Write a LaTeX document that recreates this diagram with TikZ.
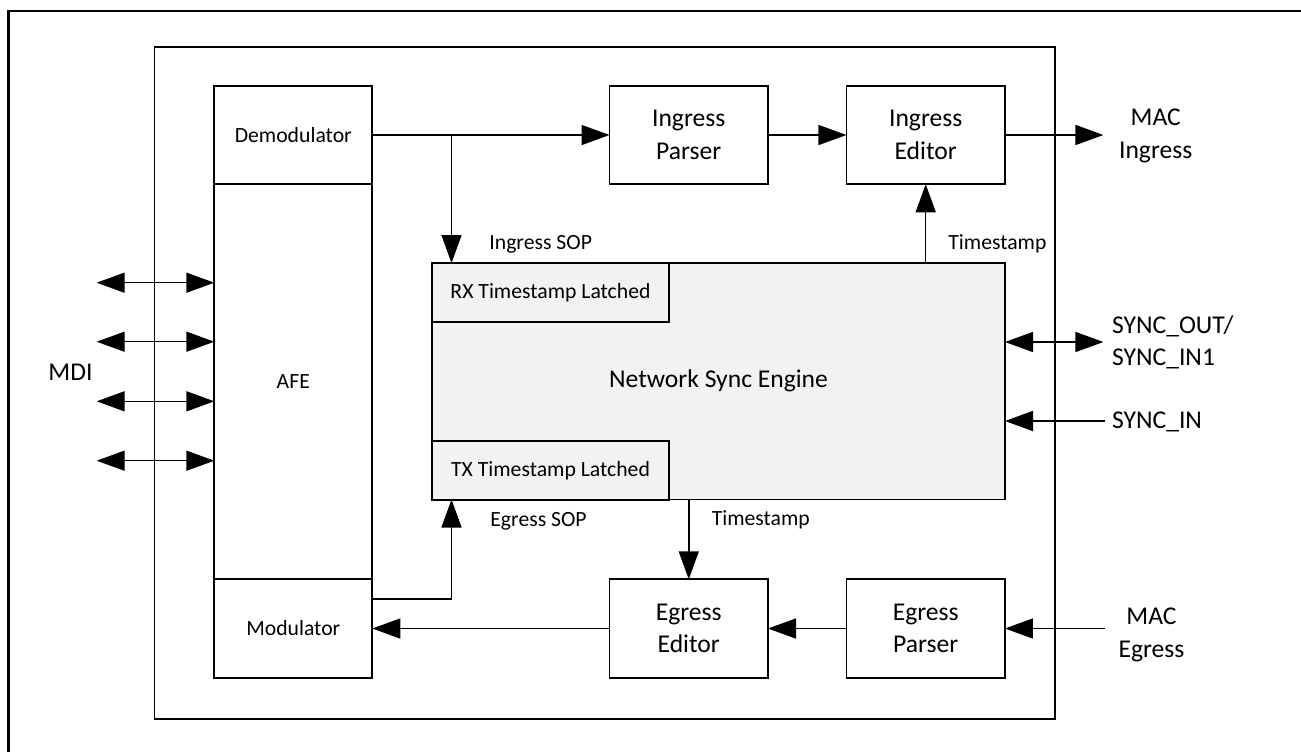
\documentclass[tikz,border=0pt]{standalone}
\usepackage{fontspec}
\setmainfont{Carlito}
\usetikzlibrary{arrows.meta}

\begin{document}
\begin{tikzpicture}[x=0.5pt,y=-0.5pt,
  bigtxt/.style={font=\fontsize{12.8pt}{16.3pt}\selectfont},
  smalltxt/.style={font=\fontsize{10.85pt}{13pt}\selectfont},
  boxbase/.style={draw, line width=0.9pt, inner sep=0pt, outer sep=0pt, align=center},
  blk/.style={boxbase, bigtxt, minimum width=79.25pt, minimum height=49.25pt},
  afecell/.style={boxbase, smalltxt, minimum width=79pt},
  latch/.style={boxbase, smalltxt, shade, minimum width=118.5pt, minimum height=29.5pt},
  shade/.style={fill=black!5},
  wire/.style={line width=0.75pt},
  arr/.style={wire, -{Triangle[length=14pt,width=10pt]}},
  darr/.style={wire, {Triangle[length=14pt,width=10pt]}-{Triangle[length=14pt,width=10pt]}},
  lbl/.style={inner sep=0pt, smalltxt},
  ext/.style={inner sep=0pt, bigtxt, align=center},
]
\useasboundingbox (0,0) rectangle (1301,751);

% page frame (runs off the right and bottom edges)
\draw[line width=1.3pt] (8.3,760) -- (8.3,11) -- (1310,11);

% device outline
\node[draw, line width=0.75pt, inner sep=0pt, minimum width=450.1pt, minimum height=336pt] (chip) at (604.7,383) {};

% analog front end column
\node[afecell, minimum height=49pt] (dm) at (293.3,135) {Demodulator};
\node[afecell, minimum height=197.5pt] (afe) at (293.3,381.5) {AFE};
\node[afecell, minimum height=49.5pt] (mod) at (293.3,628.5) {Modulator};

% ingress path
\node[blk] (ip) at (688.75,135) {Ingress\\Parser};
\node[blk] (ie) at (925.7,135) {Ingress\\Editor};

% egress path
\node[blk] (ee) at (688.75,628.5) {Egress\\Editor};
\node[blk] (ep) at (925.7,628.5) {Egress\\Parser};

% network sync engine with latches
\node[boxbase, bigtxt, shade, minimum width=286.5pt, minimum height=118.25pt] (nse) at (718.5,381.25) {Network Sync Engine};
\node[latch] (rx) at (550.5,292.75) {RX Timestamp Latched};
\node[latch] (tx) at (550.5,470.25) {TX Timestamp Latched};

% external signal labels
\node[ext] (mdi) at (70.5,372.7) {MDI};
\node[ext] (maci) at (1155.7,136) {MAC\\Ingress};
\node[ext] (mace) at (1151.5,635) {MAC\\Egress};
\node[ext, anchor=west, align=left] (syncio) at (1111.7,342.5) {SYNC\_OUT/\\SYNC\_IN1};
\node[ext, anchor=west] (syncin) at (1111.7,421.5) {SYNC\_IN};

% free ends of the external connectors
\coordinate (maciT) at (1103.4,135);
\coordinate (maceS) at (1104.6,628.5);
\coordinate (syncioT) at (1103.4,342);
\coordinate (syncinS) at (1104.6,421);
\coordinate (br) at (451.5,135);
\coordinate (modT) at (451.5,599);

% MDI lanes
\foreach \yy/\nm in {282.7/a,341.7/b,401.3/c,460.7/d}{
  \coordinate (mdi\nm) at (96.7,\yy);
  \draw[darr] (mdi\nm) -- (mdi\nm -| afe.west);
}

% ingress data flow
\draw[arr] (dm.east) -- (ip.west);
\draw[arr] (br) -- (br |- nse.north);
\draw[arr] (ip.east) -- (ie.west);
\draw[arr] (ie.east) -- (maciT);
\draw[arr] (nse.north -| ie.south) -- (ie.south);

% egress data flow
\draw[arr] (maceS) -- (ep.east);
\draw[arr] (ep.west) -- (ee.east);
\draw[arr] (ee.west) -- (mod.east);
\draw[arr] (nse.south -| ee.north) -- (ee.north);
\draw[arr] (mod.east |- modT) -- (modT) -- (modT |- nse.south);

% sync pins
\draw[darr] (nse.east |- syncioT) -- (syncioT);
\draw[arr] (syncinS) -- (nse.east |- syncinS);

% connector labels
\node[lbl, anchor=west] (isop) at (489,244) {Ingress SOP};
\node[lbl, anchor=west] (esop) at (490,521) {Egress SOP};
\node[lbl, anchor=west] (tsi) at (948,244) {Timestamp};
\node[lbl, anchor=west] (tse) at (711.4,520) {Timestamp};
\end{tikzpicture}
\end{document}
